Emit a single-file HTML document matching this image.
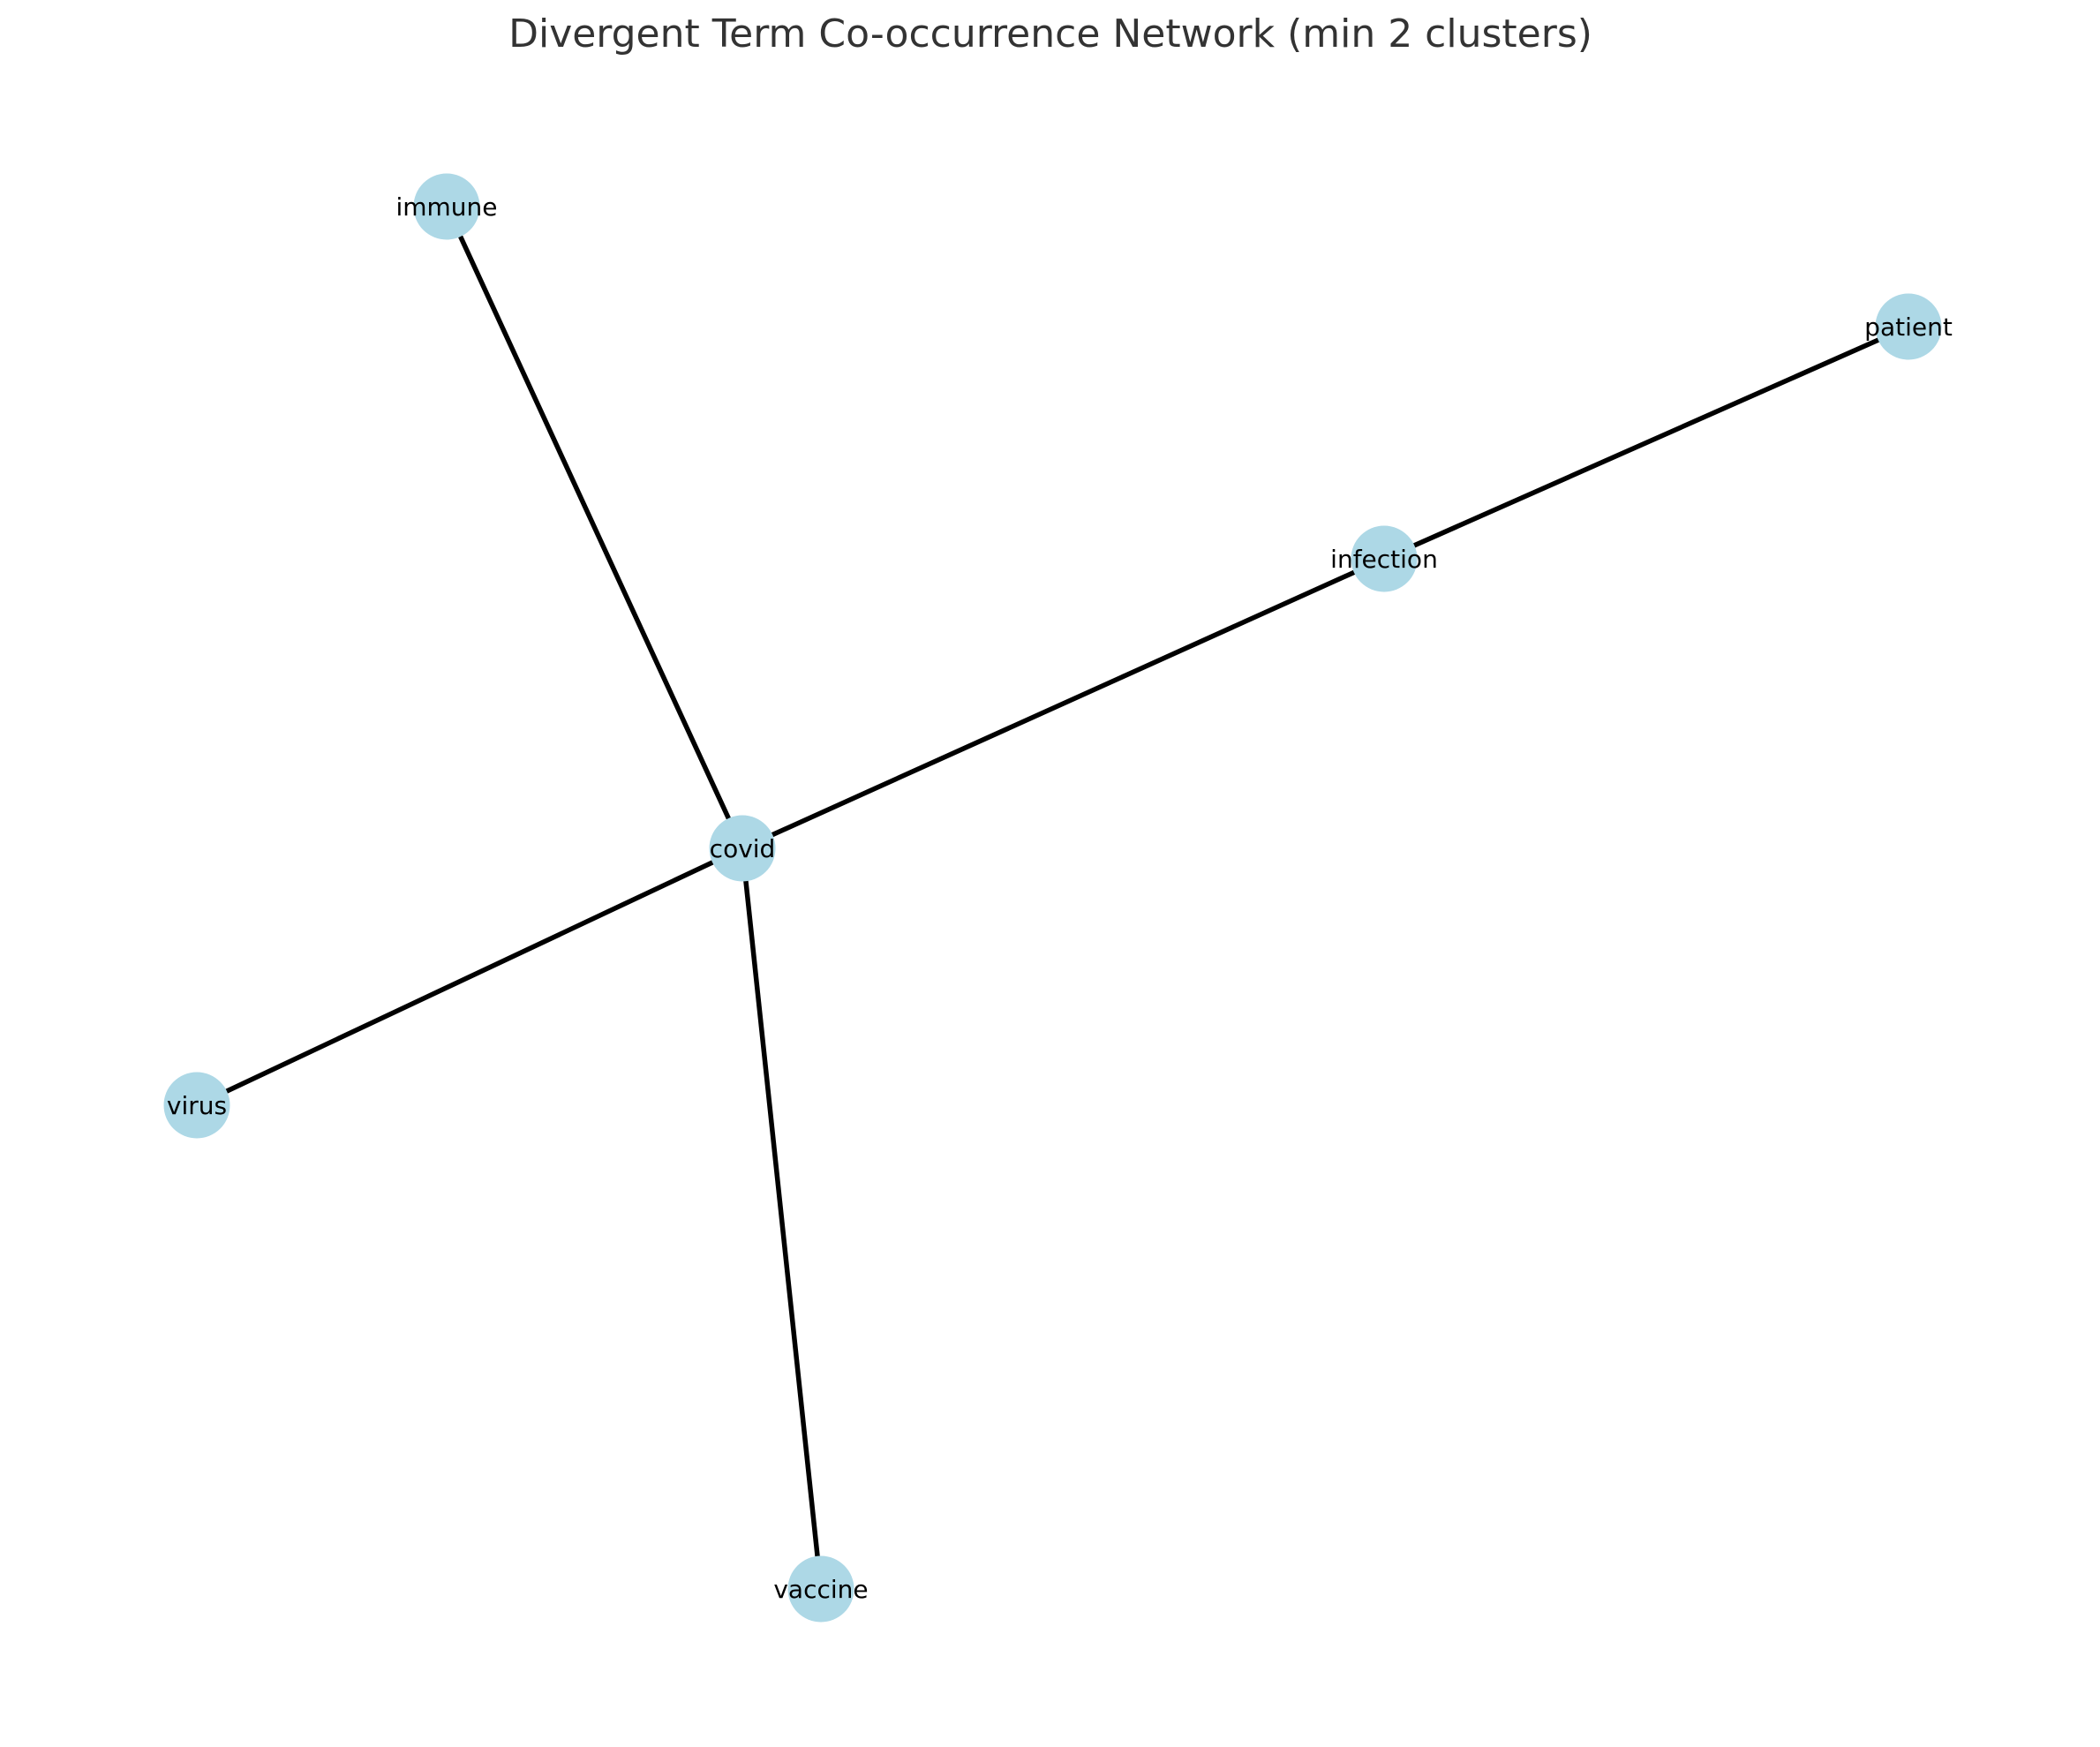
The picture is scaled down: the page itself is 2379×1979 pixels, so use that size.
<!DOCTYPE html>
<html><head><meta charset="utf-8"><style>
html,body{margin:0;padding:0;background:#fff;}
svg{display:block;}
</style></head><body>
<svg id="chart" width="2379" height="1979" viewBox="0 0 2379 1979" xmlns="http://www.w3.org/2000/svg">
<rect width="2379" height="1979" fill="#fff"/>
<text x="1190" y="53" text-anchor="middle" font-family="DejaVu Sans, Liberation Sans, sans-serif" font-size="44" fill="#333333">Divergent Term Co-occurrence Network (min 2 clusters)</text>
<g id="edges"></g>
<g id="nodes"></g>
</svg>
<script>
const nodeNames = ["immune","patient","infection","covid","virus","vaccine"];
const nodeX = [506, 2162, 1568, 841, 223, 930];
const nodeY = [234, 370, 633, 961, 1252, 1800];
const edgeSource = ["covid","covid","covid","covid","infection"];
const edgeTarget = ["immune","infection","virus","vaccine","patient"];

const NS = "http://www.w3.org/2000/svg";
const eg = document.getElementById("edges");
const ng = document.getElementById("nodes");
function px(name){ return nodeX[nodeNames.indexOf(name)]; }
function py(name){ return nodeY[nodeNames.indexOf(name)]; }
for (let i = 0; i < edgeSource.length; i++) {
  const l = document.createElementNS(NS, "line");
  l.setAttribute("x1", px(edgeSource[i])); l.setAttribute("y1", py(edgeSource[i]));
  l.setAttribute("x2", px(edgeTarget[i])); l.setAttribute("y2", py(edgeTarget[i]));
  l.setAttribute("stroke", "#000"); l.setAttribute("stroke-width", "5.5");
  
  
  eg.appendChild(l);
}
for (let i = 0; i < nodeNames.length; i++) {
  const g = document.createElementNS(NS, "g");
  
  
  const c = document.createElementNS(NS, "circle");
  c.setAttribute("cx", nodeX[i]); c.setAttribute("cy", nodeY[i]); c.setAttribute("r", 37.5);
  c.setAttribute("fill", "#add8e6");
  
  
  const t = document.createElementNS(NS, "text");
  t.setAttribute("x", nodeX[i]); t.setAttribute("y", nodeY[i] + 10);
  t.setAttribute("text-anchor", "middle");
  t.setAttribute("font-family", "DejaVu Sans, Liberation Sans, sans-serif");
  t.setAttribute("font-size", "28");
  t.setAttribute("fill", "#000");
  t.textContent = nodeNames[i];
  
  
  g.appendChild(c); g.appendChild(t);
  ng.appendChild(g);
}
</script>
</body></html>
